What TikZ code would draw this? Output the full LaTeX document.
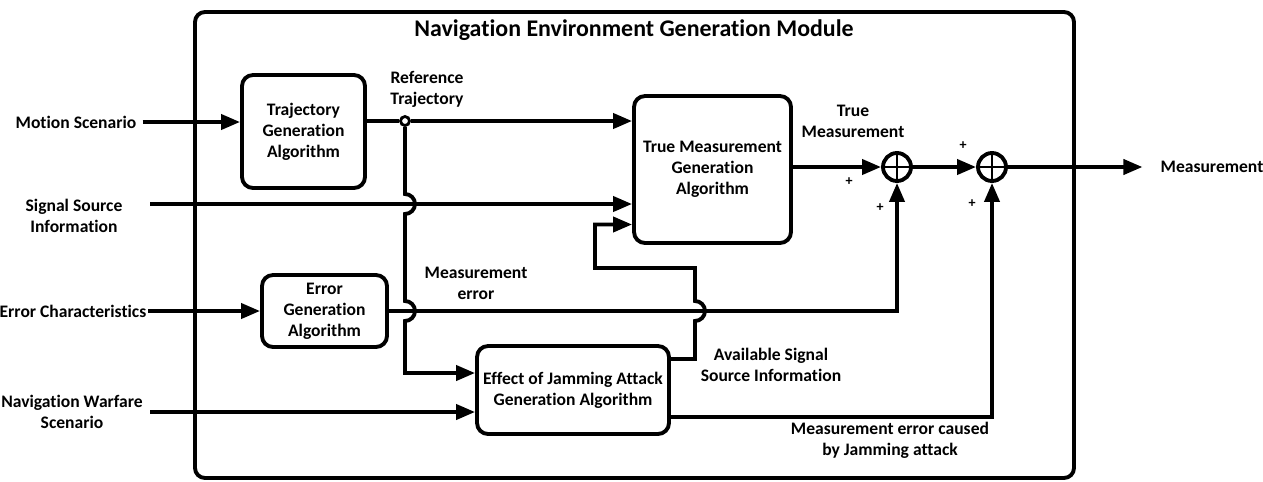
\documentclass[tikz,border=0pt]{standalone}
\usepackage{fontspec}
\setmainfont{Carlito}[Ligatures=NoCommon]
\usetikzlibrary{arrows.meta}

\tikzset{
  txt/.style={font=\fontsize{10}{11.9}\selectfont\bfseries, align=center},
  block/.style={txt, draw, line width=2.2pt, rounded corners=0.22cm, inner sep=0pt},
  sum/.style={draw, circle, line width=2.2pt, minimum size=0.56cm, inner sep=0pt,
    path picture={
      \draw[line width=1.6pt] (path picture bounding box.north) -- (path picture bounding box.south);
      \draw[line width=1.6pt] (path picture bounding box.west) -- (path picture bounding box.east);
    }},
  flow/.style={line width=2.2pt},
  arr/.style={flow, -{Triangle[length=0.38cm,width=0.3cm]}},
  pls/.style={font=\fontsize{8}{9}\selectfont\bfseries, inner sep=0pt},
}

\begin{document}
\begin{tikzpicture}[x=0.02cm, y=-0.02cm]
  \useasboundingbox (0,0) rectangle (1263,481);
  % module frame
  \draw[flow, rounded corners=0.2cm] (195,12) rectangle (1074,478);
  \node[txt, font=\fontsize{13.6}{15}\selectfont\bfseries] (title) at (634,30) {Navigation Environment Generation Module};

  % blocks
  \node[block, minimum width=2.46cm, minimum height=2.26cm] (traj) at (303.5,131.5) {Trajectory\\Generation\\Algorithm};
  \node[block, minimum width=2.5cm, minimum height=1.44cm] (err) at (324.5,311) {Error\\Generation\\Algorithm};
  \node[block, minimum width=3.14cm, minimum height=2.94cm] (tmg) at (712.5,169.5) {True Measurement\\Generation\\Algorithm};
  \node[block, minimum width=3.84cm, minimum height=1.76cm] (jam) at (573,390) {Effect of Jamming Attack\\Generation Algorithm};

  % summing points
  \node[sum] (sum1) at (897,167) {};
  \node[sum] (sum2) at (992,167) {};

  % inputs
  \node[txt] (motion) at (76,122) {Motion Scenario};
  \node[txt] (signal) at (74,216) {Signal Source\\Information};
  \node[txt, inner sep=1pt] (errc) at (73,311) {Error Characteristics};
  \node[txt] (navwar) at (72,412) {Navigation Warfare\\Scenario};
  \node[txt] (meas) at (1212,167) {Measurement};

  % coordinates
  \coordinate (sigin) at (150,204);
  \coordinate (navin) at (150,412);
  \coordinate (jamin) at ([yshift=0.34cm]jam.west);
  \coordinate (jamfb) at ([yshift=0.62cm]jam.east);
  \coordinate (jamout) at ([yshift=-0.54cm]jam.east);
  \coordinate (tmgfb) at ([yshift=-1.1cm]tmg.west);
  \coordinate (fbx) at (695,268);
  \coordinate (fbl) at (595,268);

  % signal lines
  \draw[arr] (motion.east) -- (traj.west |- motion.east);
  \draw[arr] (sigin) -- (tmg.west |- sigin);
  \draw[arr] (errc.east) -- (err.west |- errc.east);
  \draw[arr] (navin) -- (jam.west |- navin);
  \draw[arr] (err.east) -- (sum1 |- err.east) -- (sum1.south);
  \draw[arr] (jamout) -| (sum2.south);
  \draw[arr] (tmg.east |- sum1) -- (sum1.west);
  \draw[arr] (sum1) -- (sum2);
  \draw[arr, shorten >=0.24cm] (sum2) -- (meas);

  % reference trajectory branch
  \node[circle, draw, fill=white, line width=1.6pt, minimum size=0.18cm, inner sep=0pt] (junc) at (405,121) {};
  \draw[flow] (traj.east |- junc) -- (junc);
  \draw[arr] (junc) -- (tmg.west |- junc);
  \draw[arr] (junc) -- ([yshift=0.2cm]junc |- sigin)
    arc[start angle=90, end angle=-90, radius=0.2cm]
    -- ([yshift=0.2cm]junc |- err)
    arc[start angle=90, end angle=-90, radius=0.2cm]
    |- (jamin);

  % available signal source feedback
  \draw[arr] (jamfb) -| ([yshift=-0.2cm]fbx |- err)
    arc[start angle=-90, end angle=90, radius=0.2cm]
    |- (fbl) |- (tmgfb);

  % labels
  \node[txt] (reflbl) at (427,89) {Reference\\Trajectory};
  \node[txt] (truelbl) at (853,121) {True\\Measurement};
  \node[txt] (errlbl) at (476,283) {Measurement\\error};
  \node[txt] (avlbl) at (771,365) {Available Signal\\Source Information};
  \node[txt] (jamlbl) at (890,440) {Measurement error caused\\by Jamming attack};
  \node[pls] (p1) at (849,182) {+};
  \node[pls] (p2) at (880,208) {+};
  \node[pls] (p3) at (963,146) {+};
  \node[pls] (p4) at (972,204) {+};
\end{tikzpicture}
\end{document}
